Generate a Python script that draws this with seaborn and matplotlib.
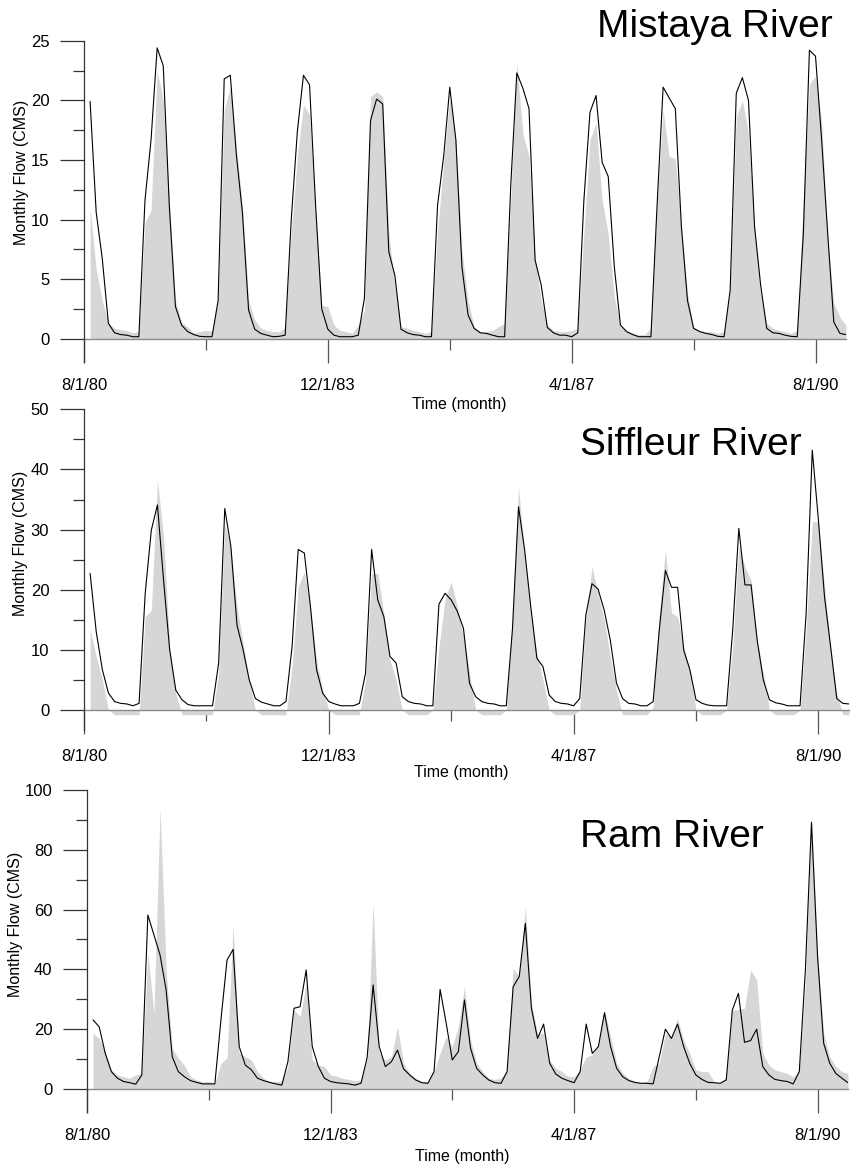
import numpy as np
import pandas as pd
import matplotlib
matplotlib.use("Agg")
import matplotlib.pyplot as plt
import seaborn as sns
from matplotlib.ticker import FixedLocator

# ---------------- data ----------------
months = list(range(1, 126))  # month index, 0 = 8/1/80
tick_months = [0, 40, 80, 120]
tick_labels = ["8/1/80", "12/1/83", "4/1/87", "8/1/90"]
minor_months = [20, 60, 100]

mistaya_sim = [19.9, 10.6, 6.7, 1.3, 0.5, 0.35, 0.3, 0.17, 0.17, 11.6,
               16.7, 24.4, 22.9, 11.1, 2.7, 1.15, 0.6, 0.35, 0.2, 0.17,
               0.17, 3.2, 21.8, 22.1, 15.4, 10.5, 2.4, 0.8, 0.45, 0.3,
               0.17, 0.2, 0.3, 10.0, 17.4, 22.1, 21.3, 11.1, 2.5, 0.8,
               0.3, 0.17, 0.17, 0.17, 0.3, 3.4, 18.3, 20.1, 19.7, 7.3,
               5.3, 0.8, 0.5, 0.35, 0.3, 0.17, 0.17, 11.2, 15.3, 21.1,
               16.7, 6.0, 2.0, 0.87, 0.5, 0.45, 0.3, 0.17, 0.17, 12.8,
               22.3, 21.0, 19.3, 6.6, 4.5, 0.95, 0.5, 0.3, 0.3, 0.17,
               0.5, 11.6, 19.0, 20.4, 14.8, 13.6, 6.0, 1.15, 0.6, 0.35,
               0.17, 0.17, 0.17, 11.1, 21.1, 20.2, 19.3, 9.4, 3.2, 0.87,
               0.6, 0.45, 0.35, 0.2, 0.17, 4.1, 20.6, 21.9, 20.0, 9.4,
               4.5, 0.87, 0.5, 0.45, 0.3, 0.2, 0.17, 8.8, 24.2, 23.7,
               16.7, 8.8, 1.4, 0.45, 0.35]
mistaya_obs = [11.0, 5.8, 3.2, 1.3, 0.9, 0.75, 0.7, 0.5, 0.6, 9.7,
               10.8, 22.5, 20.0, 11.6, 3.2, 1.4, 1.0, 0.5, 0.6, 0.7,
               0.65, 3.2, 19.2, 21.1, 16.1, 11.1, 3.2, 1.6, 0.9, 0.7,
               0.6, 0.6, 0.9, 8.8, 15.3, 19.6, 18.8, 10.5, 2.8, 2.7,
               1.15, 0.7, 0.6, 0.45, 1.15, 2.4, 20.3, 20.7, 20.3, 8.8,
               4.4, 1.0, 0.9, 0.7, 0.6, 0.45, 0.6, 9.0, 14.8, 20.2,
               16.7, 7.4, 3.2, 1.0, 0.6, 0.6, 0.7, 1.0, 1.3, 11.6,
               23.1, 17.2, 15.3, 6.9, 3.2, 1.15, 0.7, 0.6, 0.6, 0.7,
               0.87, 8.8, 16.7, 18.1, 11.6, 8.8, 3.5, 1.15, 0.7, 0.5,
               0.35, 0.35, 0.87, 11.1, 19.2, 15.3, 15.1, 9.4, 3.8, 1.0,
               0.7, 0.6, 0.6, 0.45, 0.6, 4.1, 18.6, 20.0, 17.2, 9.4,
               3.8, 1.3, 0.87, 0.7, 0.6, 0.45, 0.7, 11.6, 21.4, 22.0,
               18.3, 8.3, 3.0, 1.8, 1.15]

siffleur_sim = [22.7, 13.0, 6.7, 2.8, 1.4, 1.1, 1.0, 0.7, 1.1, 19.4,
                29.9, 34.1, 21.6, 10.0, 3.3, 1.7, 0.9, 0.7, 0.7, 0.7,
                0.7, 7.8, 33.5, 27.2, 14.1, 10.0, 5.0, 1.9, 1.3, 1.0,
                0.7, 0.7, 1.4, 10.5, 26.7, 26.1, 17.2, 6.7, 2.8, 1.4,
                1.0, 0.7, 0.7, 0.7, 1.1, 6.1, 26.7, 18.3, 15.5, 8.9,
                7.8, 2.2, 1.4, 1.1, 1.0, 0.7, 0.7, 17.6, 19.4, 18.3,
                16.4, 13.6, 4.4, 2.2, 1.4, 1.1, 1.0, 0.7, 0.7, 13.3,
                33.8, 26.6, 17.2, 8.6, 7.2, 2.5, 1.4, 1.1, 1.0, 0.7,
                1.9, 15.8, 21.0, 20.1, 16.6, 11.6, 4.5, 1.9, 1.1, 1.0,
                0.7, 0.7, 1.4, 13.3, 23.2, 20.4, 20.4, 9.9, 6.7, 1.7,
                1.1, 0.8, 0.7, 0.7, 0.7, 13.3, 30.2, 20.8, 20.8, 11.6,
                5.0, 1.7, 1.2, 1.0, 0.7, 0.7, 0.7, 16.1, 43.2, 31.6,
                18.8, 10.5, 1.9, 1.1, 1.0]
siffleur_obs = [13.3, 8.9, 5.0, 0.0, -0.8, -0.8, -0.8, -0.8, -0.8, 15.5,
                16.6, 38.2, 28.8, 10.5, 2.8, -0.8, -0.8, -0.8, -0.8, -0.8,
                -0.8, 6.1, 31.0, 26.6, 17.2, 11.1, 5.0, 0.0, -0.8, -0.8,
                -0.8, -0.8, -0.8, 7.2, 20.5, 23.0, 17.2, 8.3, 3.3, 0.0,
                -0.8, -0.8, -0.8, -0.8, -0.8, 5.0, 22.7, 22.7, 16.0, 8.3,
                5.0, 0.0, -0.8, -0.8, -0.8, -0.8, 0.0, 10.5, 18.5, 21.3,
                17.2, 12.2, 6.1, 0.0, -0.8, -0.8, -0.8, -0.8, 0.0, 15.0,
                37.1, 26.0, 16.1, 9.4, 5.0, 0.0, -0.8, -0.8, -0.8, -0.8,
                0.0, 15.0, 23.8, 19.4, 15.0, 8.9, 3.3, -0.8, -0.8, -0.8,
                -0.8, -0.8, 0.5, 16.0, 26.6, 16.1, 15.5, 10.5, 6.7, 0.0,
                -0.8, -0.8, -0.8, -0.8, 0.0, 10.5, 27.2, 23.8, 21.6, 11.6,
                6.1, 0.0, -0.8, -0.8, -0.8, -0.8, 0.0, 13.3, 31.3, 31.3,
                20.5, 10.5, 2.8, -0.8, -0.8]

ram_sim = [23.1, 20.8, 11.9, 5.8, 3.6, 2.5, 2.1, 1.6, 4.7, 58.2,
           51.5, 44.8, 33.1, 10.8, 5.8, 4.1, 2.8, 2.2, 1.7, 1.7,
           1.7, 23.1, 43.1, 46.7, 14.2, 8.0, 6.4, 3.6, 2.8, 2.2,
           1.7, 1.3, 9.1, 27.0, 27.5, 39.8, 14.2, 7.5, 3.6, 2.5,
           2.1, 1.9, 1.7, 1.3, 1.9, 10.3, 34.8, 14.2, 7.5, 9.1,
           13.0, 6.7, 4.7, 3.0, 2.1, 1.9, 5.8, 33.3, 22.0, 9.7,
           12.5, 29.8, 13.6, 6.9, 4.7, 3.0, 2.1, 1.9, 5.8, 34.2,
           37.6, 55.4, 27.0, 16.9, 21.7, 8.6, 5.0, 3.6, 2.8, 2.1,
           5.8, 21.7, 11.9, 14.2, 25.5, 14.2, 6.9, 4.1, 2.8, 2.2,
           1.9, 1.9, 1.7, 10.8, 20.0, 16.9, 21.7, 14.2, 8.6, 4.7,
           3.2, 2.2, 2.1, 1.9, 3.0, 26.4, 32.0, 15.6, 16.2, 20.0,
           7.5, 4.7, 3.2, 2.8, 2.5, 1.7, 5.8, 39.8, 89.2, 44.3,
           15.3, 8.6, 5.2, 3.6, 2.1]
ram_obs = [18.6, 16.9, 12.5, 6.4, 4.7, 4.1, 3.6, 4.7, 5.2, 45.4,
           25.3, 93.9, 39.8, 13.6, 10.3, 8.0, 4.1, 3.0, 2.5, 2.5,
           1.9, 8.5, 10.5, 54.8, 12.0, 10.8, 9.7, 5.8, 3.6, 2.5,
           2.5, 2.5, 7.5, 26.4, 24.2, 35.3, 9.7, 8.0, 7.5, 4.7,
           4.3, 3.6, 3.2, 2.8, 3.0, 9.7, 62.0, 12.0, 9.7, 10.8,
           20.8, 8.6, 5.2, 3.6, 2.5, 2.2, 6.0, 12.0, 17.5, 14.2,
           20.8, 34.2, 16.4, 8.6, 5.8, 3.6, 3.2, 3.6, 6.4, 40.4,
           37.6, 61.0, 28.7, 18.6, 18.6, 9.7, 6.9, 5.8, 4.3, 4.1,
           6.4, 10.8, 11.4, 15.3, 26.4, 17.5, 8.6, 5.2, 3.6, 2.5,
           2.1, 2.5, 7.5, 8.6, 18.6, 17.5, 23.6, 16.4, 11.9, 6.4,
           5.8, 5.8, 2.5, 1.9, 4.1, 26.4, 26.6, 27.0, 39.8, 36.5,
           11.9, 8.0, 6.4, 5.8, 5.2, 4.1, 6.4, 35.3, 91.0, 45.4,
           18.6, 10.8, 7.5, 5.8, 5.2]

titles = ["Mistaya River", "Siffleur River", "Ram River"]
y_label = "Monthly Flow (CMS)"
x_label = "Time (month)"

# ---------------- style ----------------
sns.set_style("ticks")
plt.rcParams["font.family"] = ["Liberation Sans", "DejaVu Sans"]
plt.rcParams["text.color"] = "black"
plt.rcParams["axes.labelcolor"] = "black"
plt.rcParams["xtick.labelcolor"] = "black"
plt.rcParams["ytick.labelcolor"] = "black"

W, H = 854, 1168
fig = plt.figure(figsize=(W / 100, H / 100), dpi=100)

def frac_axes(left, top, right, bottom):
    return fig.add_axes([left / W, 1 - bottom / H, (right - left) / W, (bottom - top) / H])

panels = [
    dict(box=(84, 40.7, 846, 362), sim=mistaya_sim, obs=mistaya_obs,
         ylim=(-1.95, 25), major=5, minor=2.5, ylab_x=-0.0814, ylab_y=0.59,
         xlab_y=-0.131, title_xy=(715, 37)),
    dict(box=(84, 409.3, 849, 730), sim=siffleur_sim, obs=siffleur_obs,
         ylim=(-3.33, 50), major=10, minor=5, ylab_x=-0.0827, ylab_y=0.583,
         xlab_y=-0.134, title_xy=(691, 455)),
    dict(box=(87, 790, 848, 1111.7), sim=ram_sim, obs=ram_obs,
         ylim=(-7.6, 100), major=20, minor=10, ylab_x=-0.0933, ylab_y=0.583,
         xlab_y=-0.138, title_xy=(672, 847)),
]

fill_color = "#d6d6d6"
axis_color = "#333333"

for p, title in zip(panels, titles):
    ax = frac_axes(*p["box"])
    ax.patch.set_alpha(0)
    df = pd.DataFrame({"month": months, "sim": p["sim"], "obs": p["obs"]})
    ax.fill_between(df["month"], df["obs"], 0, color=fill_color, lw=0, zorder=1)
    sns.lineplot(data=df, x="month", y="sim", ax=ax, color="black", lw=0.8, zorder=3)

    ax.set_xlim(0, 125)
    ax.set_ylim(*p["ylim"])

    for s in ("top", "right"):
        ax.spines[s].set_visible(False)
    ax.spines["bottom"].set_position(("data", 0))
    ax.spines["bottom"].set_color("#8a8a8a")
    ax.spines["bottom"].set_linewidth(1.0)
    ax.spines["bottom"].set_zorder(2)
    ax.spines["left"].set_color(axis_color)
    ax.spines["left"].set_linewidth(0.9)

    ax.xaxis.set_major_locator(FixedLocator(tick_months))
    ax.set_xticklabels(tick_labels)
    ax.xaxis.set_minor_locator(FixedLocator(minor_months))
    yt = np.arange(0, p["ylim"][1] + 0.01, p["major"])
    ax.yaxis.set_major_locator(FixedLocator(yt))
    ax.set_yticklabels([f"{v:g}" for v in yt])
    ymt = np.arange(0, p["ylim"][1] + 0.01, p["minor"])
    ax.yaxis.set_minor_locator(FixedLocator([v for v in ymt if v not in set(yt)]))

    ax.tick_params(axis="x", which="major", direction="out", length=17, width=0.9,
                   color="#555555", pad=11, labelsize=12, labelcolor="black")
    ax.tick_params(axis="x", which="minor", direction="out", length=8, width=0.9,
                   color="#555555")
    ax.tick_params(axis="y", which="major", direction="out", length=17, width=0.9,
                   color=axis_color, pad=8, labelsize=12, labelcolor="black")
    ax.tick_params(axis="y", which="minor", direction="out", length=8, width=0.9,
                   color=axis_color)

    ax.set_ylabel(y_label, fontsize=11.5, color="black")
    ax.yaxis.set_label_coords(p["ylab_x"], p["ylab_y"])
    ax.yaxis.label.set_verticalalignment("center")
    ax.set_xlabel(x_label, fontsize=11.5, color="black")
    ax.xaxis.set_label_coords(0.493, p["xlab_y"])
    ax.xaxis.label.set_verticalalignment("center")

    tx, ty = p["title_xy"]
    fig.text(tx / W, 1 - ty / H, title, fontsize=28, ha="center", va="baseline",
             color="black")

fig.savefig("out.png", dpi=100)
